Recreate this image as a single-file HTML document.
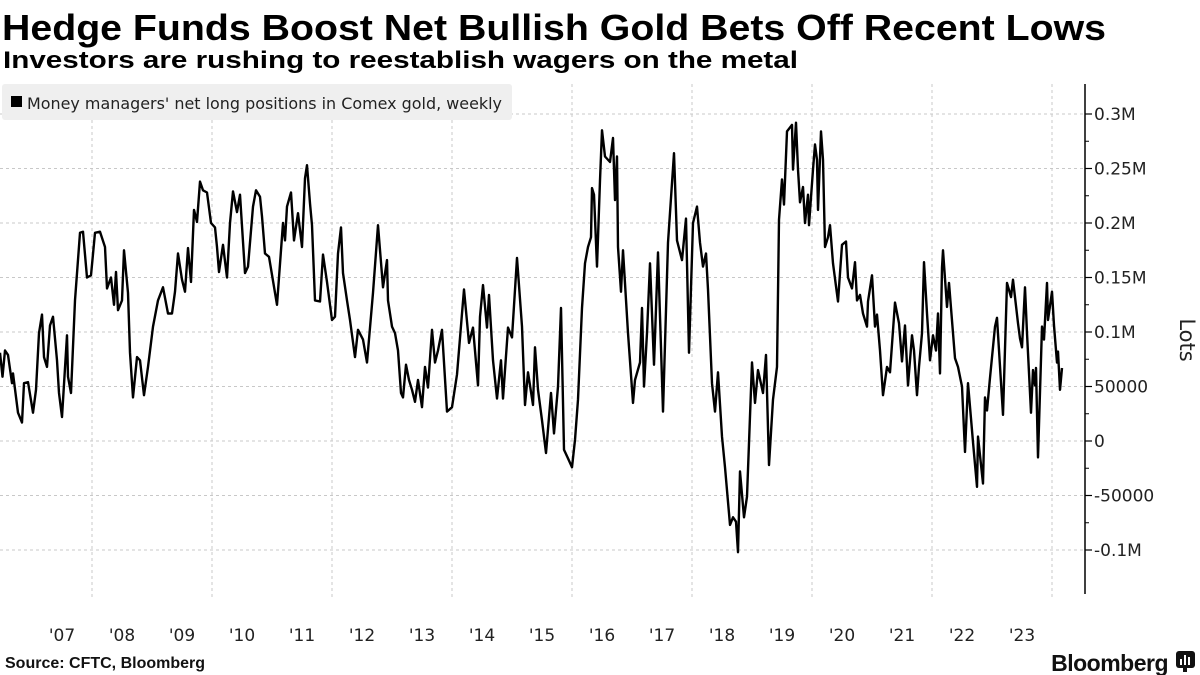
<!DOCTYPE html>
<html><head><meta charset="utf-8">
<style>
html,body{margin:0;padding:0;background:#fff;}
svg{display:block;font-family:"Liberation Sans",sans-serif;}
.dv{font-family:"DejaVu Sans","Liberation Sans",sans-serif;}
</style></head>
<body>
<svg id="chart" width="1200" height="675" viewBox="0 0 1200 675">
  <text x="2" y="40" font-size="36" font-weight="bold" textLength="1104" lengthAdjust="spacingAndGlyphs">Hedge Funds Boost Net Bullish Gold Bets Off Recent Lows</text>
  <text x="3" y="68" font-size="24" font-weight="bold" textLength="795" lengthAdjust="spacingAndGlyphs">Investors are rushing to reestablish wagers on the metal</text>
  <g id="grid"></g>
  <rect x="2" y="84" width="510" height="36" rx="3" fill="#efefef"/>
  <rect x="11" y="96" width="11" height="11" fill="#000"/>
  <text class="dv" x="27" y="109" font-size="16" fill="#222" textLength="475" lengthAdjust="spacingAndGlyphs">Money managers' net long positions in Comex gold, weekly</text>
  <g id="axes" class="dv"></g>
  <path id="series" fill="none" stroke="#000" stroke-width="2.4" stroke-linejoin="round"/>
  <text class="dv" transform="translate(1180,340) rotate(90)" font-size="21" fill="#222" text-anchor="middle">Lots</text>
  <text x="5" y="668" font-size="16" font-weight="bold" fill="#111">Source: CFTC, Bloomberg</text>
  <text x="1168" y="671" font-size="23" font-weight="bold" fill="#111" text-anchor="end" letter-spacing="-0.5">Bloomberg</text>
  <g>
    <rect x="1176" y="651" width="19" height="17" rx="3" fill="#111"/>
    <rect x="1180" y="659" width="2" height="6" fill="#fff"/>
    <rect x="1184" y="655" width="2" height="10" fill="#fff"/>
    <rect x="1188" y="657" width="2" height="8" fill="#fff"/>
    <rect x="1183" y="668" width="4" height="4" fill="#111"/>
  </g>
</svg>
<script>
// time index: months since mid-2006 (2006.467)
const months = [0,0.5,1,1.6,2.4,2.6,3.6,4.4,4.8,5.6,6.6,7.2,7.8,8.4,8.8,9.4,10,10.6,11.4,11.8,12.4,13.4,13.6,14.2,15,16,16.6,17.4,18.2,19,20,21,21.4,22.2,22.8,23.2,23.6,24.4,24.8,25.6,26,26.6,27.4,28,28.8,29.6,30.6,31.6,32.6,33.6,34.4,35,35.6,36.4,37,37.6,38.2,38.8,39.4,40,40.6,41.4,42.2,43,43.4,43.8,44.6,45.4,46,46.6,47.4,48,49,49.6,50.6,51.2,52,52.4,53,53.8,55.4,56.6,57,57.4,58.2,58.8,59.6,60.4,61,61.4,62,62.4,63,64,64.6,65.4,66.4,67,67.6,68.2,68.6,69.4,70,71,71.6,72.6,73.4,74.6,75.6,76.6,77.4,77.6,78.4,79,79.6,80.2,80.6,81.2,81.8,82.4,83,83.6,84.4,85,85.6,86.4,87,87.6,88.4,89.4,90.4,91.4,92.4,92.8,93.8,94.6,95.6,96,96.6,97.4,97.8,98.6,99.4,100.2,100.6,101.6,102.4,103.4,104.4,105,105.6,106.6,107,107.6,108.4,109.2,110.2,110.8,111.6,112.2,112.8,113.6,114.4,115,115.6,116.4,117,117.6,118.2,118.4,118.8,119.4,120,120.4,121,122,122.6,123,123.4,123.6,124.2,124.6,125.6,126.6,127,128,128.4,128.8,129.4,130,130.8,131.6,132.6,133.6,134.8,135.4,136.4,137.2,137.8,138.6,139.4,140,140.6,141.2,141.6,142.4,143,143.6,144.4,145,146,146.6,147.2,147.6,148,148.8,149.4,150.4,151,151.6,152.6,153.2,153.8,154.6,155.4,155.8,156.4,156.8,157.4,158.4,158.6,159.2,159.6,160,160.6,161,161.6,161.8,162.6,163,163.4,163.6,164.2,164.6,165,165.6,166,166.6,167.6,168.4,169.2,169.6,170.4,171,171.4,172,172.6,173.4,173.6,174.4,175,175.4,176,176.6,177.4,178,179,179.8,180.4,181,181.6,182.4,182.8,183.4,183.8,184.4,184.8,185.4,186,186.6,187.2,187.6,188,188.4,188.6,189.4,189.8,191,191.6,192.4,193,193.6,194.6,195.4,195.6,196.6,197,197.4,198,199,199.4,200.6,201.4,202.2,202.6,203.6,204,204.4,205,205.4,206.2,206.6,207,207.2,207.6,208.4,208.8,209.4,209.6,210.4,210.8,211.4,211.6,212,212.4];
// net long positions, thousands of lots
const netLong = [81,59,83,79,53,62,26,17,53,54,26,47,99,116,77,68,106,114,74,44,22,97,59,44,129,191,192,150,152,191,192,178,140,150,125,155,120,129,175,136,81,40,77,74,42,68,105,129,141,117,117,137,172,148,137,177,146,212,201,238,230,228,200,196,178,155,180,150,200,229,210,226,154,160,215,230,224,206,172,169,125,200,184,215,228,184,209,178,241,253,218,198,129,128,171,146,111,114,172,196,154,129,111,77,102,93,72,136,198,141,166,129,105,99,83,44,40,70,56,47,36,56,31,68,49,102,72,83,102,27,31,61,117,139,90,104,51,114,143,104,134,74,39,74,39,104,95,168,105,33,63,33,86,47,19,-11,44,7,50,122,-8,-16,-24,1,38,122,163,178,187,232,226,160,239,285,261,256,278,221,261,178,137,175,99,35,56,72,122,50,99,163,70,173,27,182,264,184,166,204,81,200,215,182,160,172,139,53,27,63,4,-24,-77,-70,-74,-102,-28,-70,-51,72,35,65,44,79,-22,38,68,203,240,217,284,290,249,292,249,219,233,200,226,198,249,272,258,212,284,258,178,187,198,163,128,180,183,150,140,164,129,134,117,105,128,152,105,116,83,42,68,63,127,108,73,106,51,97,83,42,68,99,164,117,74,97,83,117,62,159,175,123,145,76,68,50,-10,53,-1,-42,4,-39,40,28,58,105,113,24,145,132,148,108,94,86,141,99,26,65,51,67,-15,105,93,145,111,137,106,72,82,47,67];
const yTickValues = [-100,-50,0,50,100,150,200,250,300];
const yTickLabels = ["-0.1M","-50000","0","50000","0.1M","0.15M","0.2M","0.25M","0.3M"];
const xTickYears = [2007,2008,2009,2010,2011,2012,2013,2014,2015,2016,2017,2018,2019,2020,2021,2022,2023];
const xTickLabels = ["'07","'08","'09","'10","'11","'12","'13","'14","'15","'16","'17","'18","'19","'20","'21","'22","'23"];

const NS = "http://www.w3.org/2000/svg";
const startYear = 2006.467;
function xOfYear(t){ return 62 + 60*(t - 2007.5); }
function xOfMonth(m){ return xOfYear(startYear + m/12); }
function yOf(v){ return 441 - v*(327/300); }
const AXIS_X = 1085;

const grid = document.getElementById('grid');
const axes = document.getElementById('axes');
function mk(tag, attrs, parent){ const e=document.createElementNS(NS,tag); for(const k in attrs) e.setAttribute(k,attrs[k]); parent.appendChild(e); return e; }

yTickValues.forEach((v,i)=>{
  const y = yOf(v);
  const g = mk('line',{x1:0,x2:AXIS_X,y1:y,y2:y,stroke:'#c8c8c8','stroke-width':1,'stroke-dasharray':'3,3'},grid);
  
  
  const t = mk('line',{x1:AXIS_X,x2:AXIS_X+7,y1:y,y2:y,stroke:'#000','stroke-width':1.2},axes);
  
  
  const lab = mk('text',{x:AXIS_X+9,y:y+6,'font-size':17,fill:'#222'},axes);
  lab.textContent = yTickLabels[i];
  
  
  if(i < yTickValues.length-1){
    const ym = yOf((v + yTickValues[i+1])/2);
    const mt = mk('line',{x1:AXIS_X,x2:AXIS_X+4,y1:ym,y2:ym,stroke:'#000','stroke-width':1},axes);
    
    
  }
});
for(let yr=2008; yr<=2024; yr+=2){
  const x = xOfYear(yr);
  const g = mk('line',{x1:x,x2:x,y1:84,y2:598,stroke:'#c8c8c8','stroke-width':1,'stroke-dasharray':'3,3'},grid);
  
  
}
const ax = mk('line',{x1:AXIS_X,x2:AXIS_X,y1:84,y2:594,stroke:'#000','stroke-width':1.5},axes);


xTickYears.forEach((yr,i)=>{
  const lab = mk('text',{x:xOfYear(yr+0.5),y:641,'font-size':17,fill:'#222','text-anchor':'middle'},axes);
  lab.textContent = xTickLabels[i];
  
  
});
let d = '';
months.forEach((m,i)=>{ d += (i?'L':'M') + xOfMonth(m).toFixed(1) + ',' + yOf(netLong[i]).toFixed(1); });
document.getElementById('series').setAttribute('d', d);
</script>
</body></html>
